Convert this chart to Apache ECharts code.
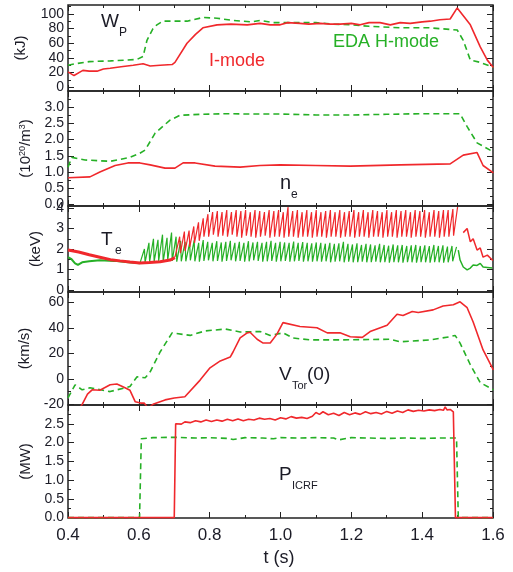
<!DOCTYPE html>
<html>
<head>
<meta charset="utf-8">
<script src="https://cdn.jsdelivr.net/npm/echarts@6/dist/echarts.min.js"></script>
<style>html,body{margin:0;background:#fff}#main{width:513px;height:572px}</style>
</head>
<body>
<div id="main"></div>
<script>
// ---- data: [t (s), value] ----
var wpGreen = [[0.400,30],[0.420,32],[0.460,35],[0.520,36],[0.560,37],[0.595,38],[0.612,42],[0.623,64],[0.640,80],[0.651,85],[0.668,90],[0.736,90],[0.781,95],[0.821,94],[0.866,91],[0.920,89],[0.942,91],[0.980,88],[1.020,88],[1.100,88],[1.150,86],[1.200,85],[1.250,83],[1.338,81],[1.420,81],[1.499,78],[1.516,64],[1.536,37],[1.564,34],[1.601,27]];
var wpRed = [[0.400,21],[0.417,16],[0.442,23],[0.460,22],[0.482,22],[0.500,25],[0.519,26],[0.550,28],[0.584,30],[0.612,32],[0.632,29],[0.660,30],[0.694,31],[0.702,34],[0.736,60],[0.760,72],[0.781,81],[0.821,85],[0.860,86],[0.906,85],[0.942,87],[0.971,85],[0.999,85],[1.020,88],[1.055,87],[1.080,86],[1.112,87],[1.140,86],[1.168,86],[1.200,87],[1.225,85],[1.250,88],[1.281,88],[1.310,85],[1.338,88],[1.366,87],[1.400,89],[1.423,90],[1.450,92],[1.479,93],[1.499,108],[1.536,85],[1.564,55],[1.584,37],[1.601,27]];

var neGreen = [[0.400,1.15],[0.411,1.45],[0.448,1.37],[0.519,1.33],[0.575,1.45],[0.603,1.58],[0.618,1.68],[0.646,2.2],[0.688,2.6],[0.716,2.75],[0.773,2.78],[0.850,2.8],[0.900,2.79],[1.000,2.79],[1.100,2.76],[1.200,2.76],[1.300,2.78],[1.400,2.8],[1.507,2.8],[1.527,2.4],[1.555,1.9],[1.601,1.62]];
var neRed = [[0.400,0.82],[0.462,0.85],[0.490,1.0],[0.533,1.2],[0.569,1.28],[0.603,1.28],[0.632,1.22],[0.674,1.12],[0.702,1.12],[0.725,1.28],[0.759,1.28],[0.815,1.18],[0.886,1.15],[0.942,1.2],[0.999,1.22],[1.100,1.2],[1.197,1.18],[1.338,1.22],[1.479,1.25],[1.516,1.52],[1.555,1.6],[1.572,1.2],[1.601,0.97]];

var teGreenPre = [[0.400,1.6],[0.410,1.5],[0.420,1.3],[0.428,1.22],[0.440,1.35],[0.460,1.4],[0.490,1.45],[0.530,1.42],[0.570,1.35],[0.603,1.3]];
// sawtooth: trough, peak, trough, peak ... between start and end time
var teGreenSawSpan = [0.603, 1.497];
var teGreenSaw = [1.30,2.00, 1.35,2.30, 1.38,2.50, 1.40,2.45, 1.42,2.70, 1.40,2.55, 1.45,2.80, 1.42,2.60, 1.38,2.40, 1.40,2.35,
  1.40,2.30, 1.45,2.42, 1.40,2.30, 1.38,2.44, 1.42,2.35, 1.45,2.30, 1.40,2.38, 1.42,2.32, 1.38,2.35, 1.42,2.40,
  1.45,2.30, 1.40,2.35, 1.42,2.30, 1.38,2.38, 1.40,2.32, 1.45,2.35, 1.42,2.30, 1.38,2.35, 1.40,2.40, 1.42,2.30,
  1.38,2.35, 1.40,2.32, 1.42,2.30, 1.38,2.36, 1.40,2.30, 1.42,2.34, 1.38,2.30, 1.40,2.28, 1.38,2.32, 1.40,2.30,
  1.38,2.26, 1.40,2.30, 1.35,2.25, 1.38,2.28, 1.40,2.35, 1.35,2.25, 1.38,2.22, 1.35,2.28, 1.36,2.20, 1.38,2.25,
  1.35,2.22, 1.36,2.18, 1.38,2.25, 1.35,2.20, 1.36,2.16, 1.33,2.22, 1.36,2.18, 1.35,2.20, 1.33,2.15, 1.36,2.18,
  1.35,2.20, 1.33,2.15, 1.36,2.18, 1.35,2.14, 1.33,2.20, 1.36,2.15, 1.35,2.18, 1.33,2.12, 1.35,2.15, 1.40,2.10];
var teGreenPost = [[1.502,1.95],[1.507,1.46],[1.516,1.12],[1.527,0.98],[1.536,1.07],[1.544,1.22],[1.555,1.2],[1.564,1.3],[1.572,1.12],[1.584,1.1],[1.598,1.07]];

var teRedPre = [[0.400,1.95],[0.430,1.85],[0.460,1.72],[0.490,1.6],[0.520,1.48],[0.547,1.42],[0.575,1.36],[0.603,1.32],[0.630,1.34],[0.660,1.38],[0.688,1.46],[0.702,1.58]];
var teRedSawSpan = [0.702, 1.500];
var teRedSaw = [1.60,2.60, 1.80,2.85, 1.90,2.90, 2.10,3.10, 2.30,3.30, 2.40,3.50, 2.60,3.70, 2.60,3.80, 2.70,3.85, 2.60,3.80,
  2.65,3.90, 2.60,3.80, 2.70,3.90, 2.60,3.85, 2.55,3.90, 2.65,3.80, 2.60,3.90, 2.55,3.85, 2.60,3.80, 2.65,3.90,
  2.55,3.85, 2.60,3.90, 2.60,3.80, 2.55,4.05, 2.60,3.85, 2.60,3.90, 2.55,3.80, 2.60,3.90, 2.60,3.80, 2.55,3.90,
  2.60,3.80, 2.60,3.85, 2.55,3.90, 2.60,3.80, 2.60,3.90, 2.55,3.80, 2.60,3.85, 2.60,3.90, 2.55,3.80, 2.60,3.90,
  2.60,3.80, 2.55,3.90, 2.60,3.85, 2.60,3.80, 2.55,3.90, 2.60,3.80, 2.60,3.90, 2.55,3.85, 2.60,3.90, 2.60,3.80,
  2.55,3.90, 2.60,3.85, 2.60,3.90, 2.55,3.80, 2.60,3.90, 2.60,3.85, 2.55,3.90, 2.60,3.90, 2.60,3.95, 2.65,4.05];
var teRedPost = [[1.516,2.8],[1.527,3.0],[1.536,2.35],[1.544,2.5],[1.555,1.95],[1.564,2.05],[1.572,1.6],[1.584,1.7],[1.598,1.46],[1.600,1.45]];

var vtGreen = [[0.400,-15],[0.420,-4.7],[0.440,-8.6],[0.462,-7],[0.519,-10],[0.575,-6],[0.595,1.6],[0.618,0.8],[0.632,5.5],[0.660,21],[0.694,36],[0.745,34],[0.787,37.5],[0.844,39],[0.886,36.7],[0.942,37],[0.971,34],[1.007,36],[1.035,32],[1.083,30.5],[1.168,30.5],[1.310,31],[1.338,29],[1.423,30.5],[1.479,33],[1.493,34],[1.507,28],[1.536,11],[1.564,-3],[1.601,-8.6]];
var vtRed = [[0.400,-32],[0.425,-26],[0.440,-20],[0.455,-12],[0.468,-8.6],[0.490,-9],[0.519,-4.7],[0.538,-4],[0.561,-7],[0.575,-9],[0.590,-18],[0.605,-19],[0.615,-19],[0.626,-23],[0.640,-20],[0.674,-16.5],[0.700,-15],[0.730,-14],[0.773,-1],[0.801,8.6],[0.830,14],[0.858,17],[0.866,21],[0.886,32],[0.906,36],[0.914,36.5],[0.934,31],[0.951,28],[0.971,28],[0.990,35],[1.007,44],[1.055,41],[1.103,40],[1.132,36],[1.168,36],[1.197,33],[1.231,32.5],[1.253,37],[1.301,42],[1.329,50.6],[1.346,49.6],[1.372,52.7],[1.389,51.9],[1.431,54],[1.459,57],[1.488,58],[1.507,60.3],[1.527,55.7],[1.544,44.5],[1.572,22.6],[1.601,7]];

var picGreen = [[0.400,0],[0.602,0],[0.607,2.1],[0.640,2.13],[0.700,2.14],[0.760,2.12],[0.800,2.13],[0.850,2.11],[0.866,2.08],[0.900,2.13],[0.950,2.12],[0.980,2.1],[1.000,2.13],[1.050,2.12],[1.100,2.13],[1.150,2.12],[1.163,2.07],[1.200,2.13],[1.250,2.12],[1.300,2.11],[1.350,2.12],[1.400,2.11],[1.450,2.12],[1.497,2.12],[1.502,0],[1.600,0]];
var picRed = [[0.400,0],[0.700,0],[0.704,2.5],[0.720,2.49],[0.730,2.55],[0.745,2.53],[0.760,2.58],[0.775,2.55],[0.790,2.6],[0.805,2.56],[0.820,2.6],[0.835,2.57],[0.850,2.62],[0.865,2.58],[0.880,2.63],[0.895,2.58],[0.910,2.62],[0.925,2.6],[0.940,2.65],[0.955,2.62],[0.970,2.64],[0.985,2.6],[1.000,2.66],[1.015,2.63],[1.030,2.69],[1.045,2.65],[1.060,2.67],[1.075,2.64],[1.090,2.7],[1.100,2.8],[1.110,2.75],[1.120,2.82],[1.135,2.74],[1.150,2.78],[1.165,2.72],[1.180,2.8],[1.195,2.74],[1.210,2.79],[1.225,2.75],[1.240,2.82],[1.255,2.77],[1.270,2.8],[1.285,2.76],[1.300,2.83],[1.315,2.78],[1.330,2.84],[1.345,2.8],[1.360,2.87],[1.375,2.83],[1.390,2.86],[1.405,2.84],[1.420,2.87],[1.435,2.85],[1.450,2.88],[1.460,2.86],[1.465,2.95],[1.470,2.87],[1.480,2.88],[1.488,2.82],[1.491,2.85],[1.494,0],[1.600,0]];

// ---- ticks ----
var xTicks = [0.4, 0.6, 0.8, 1.0, 1.2, 1.4, 1.6];
var xMinor = [0.5, 0.7, 0.9, 1.1, 1.3, 1.5];
var wpTicks = [0, 20, 40, 60, 80, 100];
var wpMinor = [10, 30, 50, 70, 90, 110];
var neTicks = [0, 0.5, 1.0, 1.5, 2.0, 2.5, 3.0];
var neMinor = [0.25, 0.75, 1.25, 1.75, 2.25, 2.75, 3.25];
var teTicks = [0, 1, 2, 3, 4];
var teMinor = [0.5, 1.5, 2.5, 3.5];
var vtTicks = [-20, 0, 20, 40, 60];
var vtMinor = [-10, 10, 30, 50];
var picTicks = [0, 0.5, 1.0, 1.5, 2.0, 2.5];
var picMinor = [0.25, 0.75, 1.25, 1.75, 2.25, 2.75];

var FONT = '"Liberation Sans", Helvetica, Arial, sans-serif';
var INK = '#1b1b26';
var RED = '#f0282c';
var GREEN = '#26b026';

// place the trough/peak values in time: slow rise to each peak, quick crash to the next trough
function saw(vals, span) {
    var out = [];
    var pairs = vals.length / 2;
    var per = (span[1] - span[0]) / pairs;
    for (var i = 0; i < vals.length; i++) {
        var k = Math.floor(i / 2);
        var t = (i % 2 === 0) ? span[0] + k * per + (k > 0 ? 0.15 * per : 0) : span[0] + (k + 1) * per;
        out.push([t, vals[i]]);
    }
    return out;
}
function f0(v) { return String(Math.round(v)); }
function f1(v) { return v.toFixed(1); }

var panels = [
    {top: 5, height: 86, min: -5, max: 112, ticks: wpTicks, minor: wpMinor, fmt: f0, name: '(kJ)', gap: 40},
    {top: 91, height: 115, min: -0.05, max: 3.5, ticks: neTicks, minor: neMinor, fmt: f1, name: '(10{sup|20}/m{sup|3})', gap: 34},
    {top: 206, height: 86, min: -0.1, max: 4.1, ticks: teTicks, minor: teMinor, fmt: f0, name: '(keV)', gap: 25},
    {top: 292, height: 113, min: -20.5, max: 68, ticks: vtTicks, minor: vtMinor, fmt: f0, name: '(km/s)', gap: 36},
    {top: 405, height: 113, min: -0.01, max: 3.0, ticks: picTicks, minor: picMinor, fmt: f1, name: '(MW)', gap: 35}
];

var grids = [], xAxes = [], yAxes = [];
panels.forEach(function (p, i) {
    grids.push({left: 68, right: 20, top: p.top, height: p.height, show: true,
        borderColor: '#222', borderWidth: 1.5, backgroundColor: 'transparent'});
    ['bottom', 'top'].forEach(function (pos) {
        [[xTicks, 6], [xMinor, 3]].forEach(function (t, k) {
            var lab = (i === panels.length - 1 && pos === 'bottom' && k === 0);
            xAxes.push({
                type: 'value', gridIndex: i, position: pos, min: 0.4, max: 1.6,
                axisLine: {show: false, onZero: false},
                splitLine: {show: false},
                axisTick: {show: true, inside: true, length: t[1], customValues: t[0], lineStyle: {color: '#222', width: 1}},
                axisLabel: {show: lab, customValues: xTicks, formatter: f1, fontSize: 17,
                    color: INK, fontFamily: FONT, margin: 9}
            });
        });
    });
    ['left', 'right'].forEach(function (pos) {
        [[p.ticks, 6], [p.minor, 3]].forEach(function (t, k) {
            var main = (pos === 'left' && k === 0);
            yAxes.push({
                type: 'value', gridIndex: i, position: pos, min: p.min, max: p.max,
                axisLine: {show: false, onZero: false},
                splitLine: {show: false},
                axisTick: {show: true, inside: true, length: t[1], customValues: t[0], lineStyle: {color: '#222', width: 1}},
                axisLabel: {show: main, customValues: p.ticks, formatter: p.fmt, fontSize: 14,
                    color: INK, fontFamily: FONT, margin: 4},
                name: main ? p.name : '',
                nameLocation: 'middle', nameRotate: 90, nameGap: p.gap,
                nameTextStyle: {fontSize: 15, color: INK, fontFamily: FONT,
                    rich: {sup: {fontSize: 9, color: INK, fontFamily: FONT, verticalAlign: 'top', lineHeight: 16}}}
            });
        });
    });
});

function line(gi, data, color, width, dashed, z) {
    return {
        type: 'line', xAxisIndex: gi * 4, yAxisIndex: gi * 4, data: data,
        showSymbol: false, symbol: 'none', clip: true, z: z || 2,
        lineStyle: {color: color, width: width, type: dashed ? [6, 4] : 'solid'}
    };
}

var series = [
    line(0, wpGreen, GREEN, 1.6, true),
    line(0, wpRed, RED, 1.6, false, 3),
    line(1, neGreen, GREEN, 1.6, true),
    line(1, neRed, RED, 1.6, false, 3),
    line(2, teGreenPre, GREEN, 2, false),
    line(2, saw(teGreenSaw, teGreenSawSpan), GREEN, 1.2, false),
    line(2, teGreenPost, GREEN, 1.5, false),
    line(2, teRedPre, RED, 3, false, 3),
    line(2, saw(teRedSaw, teRedSawSpan), RED, 1.2, false, 3),
    line(2, teRedPost, RED, 1.5, false, 3),
    line(3, vtGreen, GREEN, 1.6, true),
    line(3, vtRed, RED, 1.6, false, 3),
    line(4, picGreen, GREEN, 1.6, true),
    line(4, picRed, RED, 1.6, false, 3)
];

function txt(x, y, s, size, color) {
    return {type: 'text', x: x, y: y, z: 10,
        style: {text: s, fill: color || INK, font: size + 'px ' + FONT, textVerticalAlign: 'middle'}};
}

var myChart = echarts.init(document.getElementById('main'));
myChart.setOption({
    animation: false,
    backgroundColor: '#fff',
    grid: grids,
    xAxis: xAxes,
    yAxis: yAxes,
    series: series,
    graphic: [
        txt(101, 22, 'W', 19), txt(119, 33, 'P', 12),
        txt(209, 61, 'I-mode', 18, RED),
        txt(333, 42, 'EDA H-mode', 18, GREEN),
        txt(280, 183, 'n', 20), txt(291, 195, 'e', 12),
        txt(101, 240, 'T', 19), txt(115, 251, 'e', 12),
        txt(279, 375, 'V', 19), txt(292, 386, 'Tor', 11), txt(307, 375, '(0)', 19),
        txt(279, 475, 'P', 19), txt(292, 486, 'ICRF', 11),
        {type: 'text', x: 279, y: 558, z: 10,
            style: {text: 't (s)', fill: INK, font: '18px ' + FONT, textAlign: 'center', textVerticalAlign: 'middle'}}
    ]
});
</script>
</body>
</html>
